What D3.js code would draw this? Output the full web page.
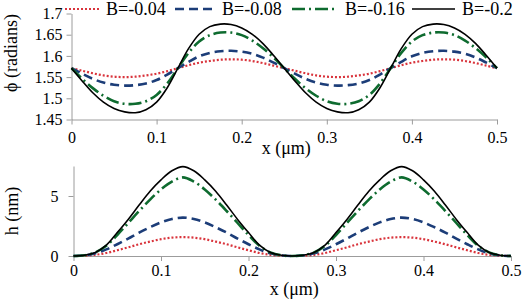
<!DOCTYPE html>
<html>
<head>
<meta charset="utf-8">
<script src="https://cdn.jsdelivr.net/npm/d3@7"></script>
<style>
  body { margin: 0; background: #fff; }
  svg { display: block; }
</style>
</head>
<body>
<div id="chart"></div>
<script>
// x positions (µm)
const xs = [0, 0.0125, 0.025, 0.0375, 0.05, 0.0625, 0.075, 0.0875, 0.1, 0.1125, 0.125,
  0.1375, 0.15, 0.1625, 0.175, 0.1875, 0.2, 0.2125, 0.225, 0.2375, 0.25,
  0.2625, 0.275, 0.2875, 0.3, 0.3125, 0.325, 0.3375, 0.35, 0.3625, 0.375,
  0.3875, 0.4, 0.4125, 0.425, 0.4375, 0.45, 0.4625, 0.475, 0.4875, 0.5];

const seriesNames = ["B=-0.04", "B=-0.08", "B=-0.16", "B=-0.2"];

// phi (radians)
const phi004 = [1.571, 1.565, 1.559, 1.554, 1.551, 1.550, 1.551, 1.554, 1.558, 1.564, 1.571,
  1.578, 1.584, 1.588, 1.591, 1.592, 1.591, 1.588, 1.583, 1.577, 1.571,
  1.565, 1.559, 1.554, 1.551, 1.550, 1.551, 1.554, 1.558, 1.564, 1.571,
  1.578, 1.584, 1.588, 1.591, 1.592, 1.591, 1.588, 1.583, 1.577, 1.571];
const phi008 = [1.571, 1.558, 1.546, 1.537, 1.532, 1.530, 1.531, 1.535, 1.543, 1.556, 1.571,
  1.586, 1.599, 1.607, 1.611, 1.612, 1.610, 1.605, 1.596, 1.584, 1.571,
  1.558, 1.546, 1.537, 1.532, 1.530, 1.531, 1.535, 1.543, 1.556, 1.571,
  1.586, 1.599, 1.607, 1.611, 1.612, 1.610, 1.605, 1.596, 1.584, 1.571];
const phi016 = [1.571, 1.546, 1.524, 1.506, 1.493, 1.487, 1.487, 1.493, 1.508, 1.535, 1.571,
  1.607, 1.634, 1.649, 1.655, 1.655, 1.649, 1.636, 1.618, 1.596, 1.571,
  1.546, 1.524, 1.506, 1.493, 1.487, 1.487, 1.493, 1.508, 1.535, 1.571,
  1.607, 1.634, 1.649, 1.655, 1.655, 1.649, 1.636, 1.618, 1.596, 1.571];
const phi020 = [1.571, 1.541, 1.513, 1.491, 1.476, 1.468, 1.466, 1.473, 1.491, 1.525, 1.571,
  1.617, 1.651, 1.669, 1.675, 1.674, 1.666, 1.651, 1.629, 1.601, 1.571,
  1.541, 1.513, 1.491, 1.476, 1.468, 1.466, 1.473, 1.491, 1.525, 1.571,
  1.617, 1.651, 1.669, 1.675, 1.674, 1.666, 1.651, 1.629, 1.601, 1.571];

// h (nm)
const h004 = [0, 0.02, 0.10, 0.25, 0.48, 0.72, 0.98, 1.20, 1.40, 1.53, 1.57,
  1.53, 1.40, 1.20, 0.98, 0.72, 0.48, 0.25, 0.10, 0.02, 0,
  0.02, 0.10, 0.25, 0.48, 0.72, 0.98, 1.20, 1.40, 1.53, 1.57,
  1.53, 1.40, 1.20, 0.98, 0.72, 0.48, 0.25, 0.10, 0.02, 0];
const h008 = [0, 0.05, 0.22, 0.55, 0.98, 1.45, 1.95, 2.40, 2.80, 3.08, 3.20,
  3.08, 2.80, 2.40, 1.95, 1.45, 0.98, 0.55, 0.22, 0.05, 0,
  0.05, 0.22, 0.55, 0.98, 1.45, 1.95, 2.40, 2.80, 3.08, 3.20,
  3.08, 2.80, 2.40, 1.95, 1.45, 0.98, 0.55, 0.22, 0.05, 0];
const h016 = [0, 0.06, 0.30, 0.85, 1.75, 2.75, 3.75, 4.70, 5.55, 6.20, 6.55,
  6.20, 5.55, 4.70, 3.75, 2.75, 1.75, 0.85, 0.30, 0.06, 0,
  0.06, 0.30, 0.85, 1.75, 2.75, 3.75, 4.70, 5.55, 6.20, 6.55,
  6.20, 5.55, 4.70, 3.75, 2.75, 1.75, 0.85, 0.30, 0.06, 0];
const h020 = [0, 0.06, 0.30, 0.90, 1.95, 3.05, 4.25, 5.40, 6.35, 7.10, 7.45,
  7.10, 6.35, 5.40, 4.25, 3.05, 1.95, 0.90, 0.30, 0.06, 0,
  0.06, 0.30, 0.90, 1.95, 3.05, 4.25, 5.40, 6.35, 7.10, 7.45,
  7.10, 6.35, 5.40, 4.25, 3.05, 1.95, 0.90, 0.30, 0.06, 0];

const xTicks = [0, 0.1, 0.2, 0.3, 0.4, 0.5];
const phiTicks = [1.45, 1.5, 1.55, 1.6, 1.65, 1.7];
const hTicks = [0, 5];

const phiSeries = [phi004, phi008, phi016, phi020];
const hSeries = [h004, h008, h016, h020];

// line styles per series
const styles = [
  { color: "#d9343c", width: 2.2, dash: "2,2" },
  { color: "#1c3d78", width: 2.6, dash: "9,5" },
  { color: "#0e6b2f", width: 2.6, dash: "13,4,2,4" },
  { color: "#000000", width: 1.6, dash: null }
];

const width = 526, height = 301;
const axisColor = "#9c9c9c";
const serif = "'Liberation Serif', Tinos, 'Times New Roman', Times, 'DejaVu Serif', serif";

const svg = d3.select("#chart").append("svg")
  .attr("width", width)
  .attr("height", height)
  .attr("font-family", serif);

function drawPanel(cfg) {
  const x = d3.scaleLinear().domain([0, 0.5]).range(cfg.xRange);
  const y = d3.scaleLinear().domain(cfg.yDomain).range(cfg.yRange);
  const g = svg.append("g");

  const xAxis = g.append("g")
    .attr("transform", `translate(0,${cfg.yRange[0]})`)
    .call(d3.axisBottom(x).tickValues(xTicks).tickFormat(d3.format(""))
      .tickSizeInner(5).tickSizeOuter(0).tickPadding(cfg.xPad));
  const yAxis = g.append("g")
    .attr("transform", `translate(${cfg.xRange[0]},0)`)
    .call(d3.axisLeft(y).tickValues(cfg.yTicks).tickFormat(d3.format(""))
      .tickSizeInner(5).tickSizeOuter(0).tickPadding(cfg.yPad));
  [xAxis, yAxis].forEach(a => {
    a.attr("font-family", serif).attr("font-size", 16);
    a.selectAll("path, line").attr("stroke", axisColor);
    a.selectAll("text").attr("fill", "#000");
  });

  const line = d3.line()
    .x((d, i) => x(xs[i]))
    .y(d => y(d))
    .curve(d3.curveCatmullRom.alpha(0.5));

  cfg.series.forEach((vals, k) => {
    const s = styles[k];
    g.append("path")
      .datum(vals)
      .attr("d", line)
      .attr("fill", "none")
      .attr("stroke", s.color)
      .attr("stroke-width", s.width)
      .attr("stroke-dasharray", s.dash);
  });

  g.append("text")
    .attr("x", (cfg.xRange[0] + cfg.xRange[1]) / 2 + 2)
    .attr("y", cfg.titleY)
    .attr("text-anchor", "middle")
    .attr("font-size", 18)
    .text("x (μm)");

  g.append("text")
    .attr("transform", `translate(${cfg.yTitle[0]},${cfg.yTitle[1]}) rotate(-90)`)
    .attr("text-anchor", "middle")
    .attr("font-size", 18)
    .text(cfg.yLabel);
}

drawPanel({
  xRange: [71.5, 497], yRange: [119.5, 13.5], yDomain: [1.45, 1.7],
  yTicks: phiTicks, series: phiSeries, xPad: 7, yPad: 4,
  titleY: 154, yTitle: [17, 53], yLabel: "ϕ (radians)"
});

drawPanel({
  xRange: [73.5, 511], yRange: [256, 166], yDomain: [0, 7.5],
  yTicks: hTicks, series: hSeries, xPad: 4, yPad: 10,
  titleY: 295, yTitle: [18, 211], yLabel: "h (nm)"
});

// legend across the top
const legendX = [65, 175, 292, 412];
const legendLen = [34, 40, 46, 43];
const legend = svg.append("g");
seriesNames.forEach((name, k) => {
  const s = styles[k];
  legend.append("line")
    .attr("x1", legendX[k]).attr("x2", legendX[k] + legendLen[k])
    .attr("y1", 9).attr("y2", 9)
    .attr("stroke", s.color)
    .attr("stroke-width", s.width)
    .attr("stroke-dasharray", s.dash);
  legend.append("text")
    .attr("x", legendX[k] + legendLen[k] + 7)
    .attr("y", 15)
    .attr("font-size", 18)
    .text(name);
});
</script>
</body>
</html>
